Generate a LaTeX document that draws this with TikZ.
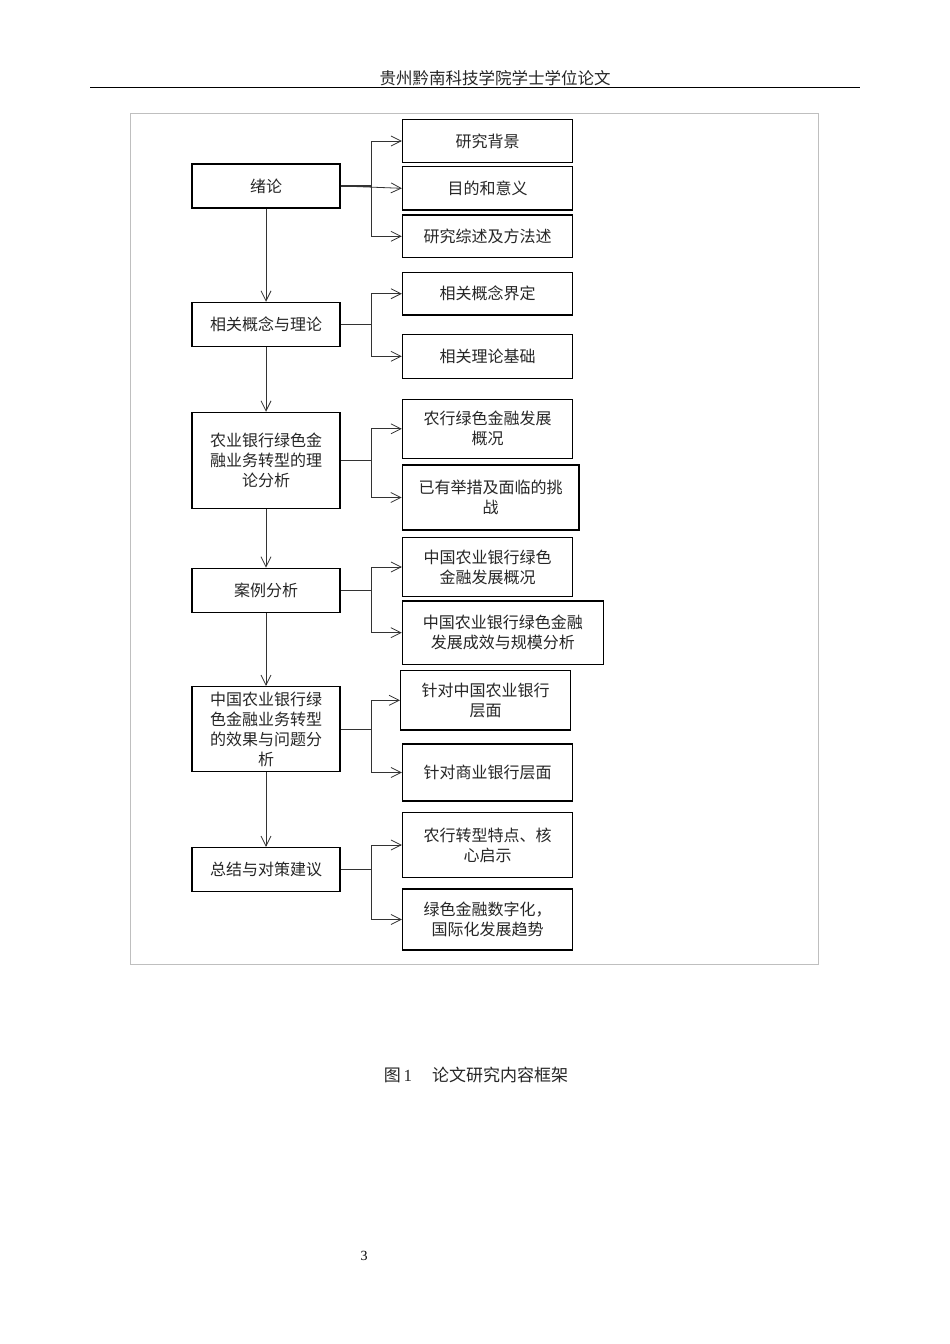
\documentclass[tikz,border=0pt]{standalone}
\usepackage{fontspec}
\setmainfont{Liberation Serif}
\newfontfamily\cjk{Noto Sans CJK SC}
\usetikzlibrary{arrows.meta}
\begin{document}
\begin{tikzpicture}[x=1pt,y=-1pt,
  box/.style={draw=black,line width=1.5pt,align=center,inner sep=0pt,
    font=\cjk\fontsize{16}{20}\selectfont,text=black!85},
  lbox/.style={box,minimum width=148pt},
  rbox/.style={box,minimum width=170pt},
  conn/.style={draw=black!80,line width=0.8pt},
  arr/.style={conn,-{Straight Barb[length=10pt,width=10pt,line width=0.8pt]}}]
\useasboundingbox (0,0) rectangle (950,1344);
\fill[white] (0,0) rectangle (950,1344);
% header
\node[font=\cjk\fontsize{16.5}{20}\selectfont,inner sep=0pt,text=black!85] (hdr) at (495,78) {贵州黔南科技学院学士学位论文};
\draw[line width=0.9pt] (90,87) -- (860,87);
% outer frame
\draw[black!25,line width=0.9pt] (130,113) rectangle (818,964);
% left column
\node[lbox,minimum height=44pt] (L1) at (266,186) {绪论};
\node[lbox,minimum height=44pt] (L2) at (266,324.5) {相关概念与理论};
\node[lbox,minimum height=96pt] (L3) at (266,460.5) {农业银行绿色金\\融业务转型的理\\论分析};
\node[lbox,minimum height=44pt] (L4) at (266,590.3) {案例分析};
\node[lbox,minimum height=85pt] (L5) at (266,729.2) {中国农业银行绿\\色金融业务转型\\的效果与问题分\\析};
\node[lbox,minimum height=44pt] (L6) at (266,869.7) {总结与对策建议};
% right column
\node[rbox,minimum height=43.4pt] (R1) at (487.6,141) {研究背景};
\node[rbox,minimum height=43.3pt] (R2) at (487.6,188.3) {目的和意义};
\node[rbox,minimum height=42.7pt] (R3) at (487.6,236.3) {研究综述及方法述};
\node[rbox,minimum height=42.7pt] (R4) at (487.6,293.7) {相关概念界定};
\node[rbox,minimum height=44pt] (R5) at (487.6,356.3) {相关理论基础};
\node[rbox,minimum height=59pt] (R6) at (487.6,428.8) {农行绿色金融发展\\概况};
\node[box,minimum width=176.5pt,minimum height=65pt] (R7) at (490.7,497.5) {已有举措及面临的挑\\战};
\node[rbox,minimum height=59.4pt] (R8) at (487.6,567) {中国农业银行绿色\\金融发展概况};
\node[box,minimum width=200.8pt,minimum height=63.3pt] (R9) at (502.9,632.7) {中国农业银行绿色金融\\发展成效与规模分析};
\node[rbox,minimum height=59.3pt] (R10) at (485.7,700.3) {针对中国农业银行\\层面};
\node[rbox,minimum height=57pt] (R11) at (487.6,772.5) {针对商业银行层面};
\node[rbox,minimum height=64.6pt] (R12) at (487.6,845) {农行转型特点、核\\心启示};
\node[rbox,minimum height=61pt] (R13) at (487.6,919.5) {绿色金融数字化，\\国际化发展趋势};
% vertical arrows
\draw[arr] (L1) -- (L2);
\draw[arr] (L2) -- (L3);
\draw[arr] (L3) -- (L4);
\draw[arr] (L4) -- (L5);
\draw[arr] (L5) -- (L6);
% branches
\draw[arr] (L1.east) -- ++(31,0) |- (R1.west);
\draw[arr] (L1.east) -- ++(31,0) |- (R3.west);
\draw[arr] (L1.east) -- (R2.west);
\draw[conn,line width=1.4pt] (L1.east) -- ++(31,0);
\draw[arr] (L2.east) -- ++(31,0) |- (R4.west);
\draw[arr] (L2.east) -- ++(31,0) |- (R5.west);
\draw[arr] (L3.east) -- ++(31,0) |- (R6.west);
\draw[arr] (L3.east) -- ++(31,0) |- (R7.west);
\draw[arr] (L4.east) -- ++(31,0) |- (R8.west);
\draw[arr] (L4.east) -- ++(31,0) |- (R9.west);
\draw[arr] (L5.east) -- ++(31,0) |- (R10.west);
\draw[arr] (L5.east) -- ++(31,0) |- (R11.west);
\draw[arr] (L6.east) -- ++(31,0) |- (R12.west);
\draw[arr] (L6.east) -- ++(31,0) |- (R13.west);
% caption
\node[font=\fontsize{17}{20}\selectfont,inner sep=0pt,text=black!85] (cap) at (476,1075) {{\cjk 图}\,1\hspace{20pt}{\cjk 论文研究内容框架}};
\node[font=\fontsize{14}{16}\selectfont,inner sep=0pt] (pg) at (364,1256) {3};
\end{tikzpicture}
\end{document}
